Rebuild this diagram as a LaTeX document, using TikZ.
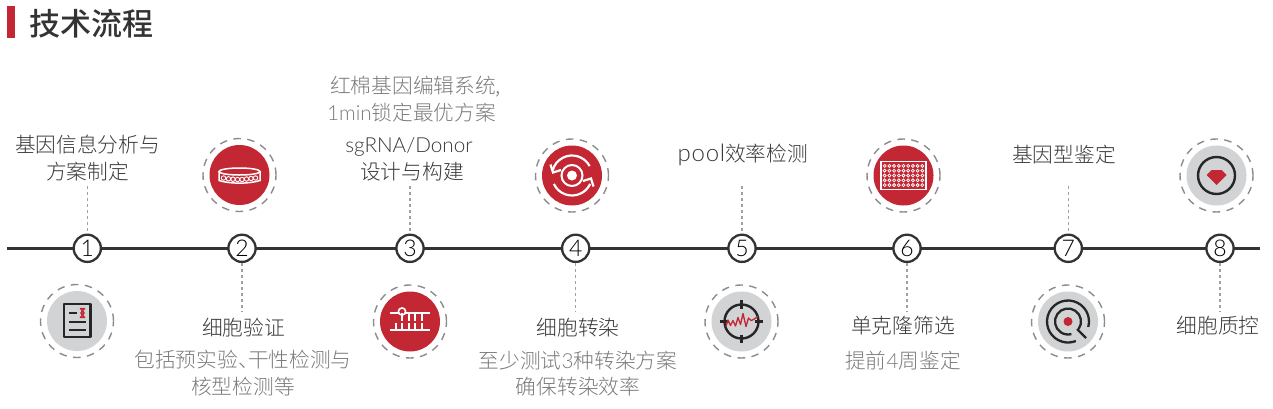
\documentclass[tikz,border=0pt]{standalone}
\usepackage{fontspec}
\newfontfamily\cjk{Noto Sans CJK SC Light}
\newfontfamily\cjkm{Noto Sans CJK SC Medium}
\newfontfamily\lat{Lato Light}
\definecolor{rd}{HTML}{C22733}
\definecolor{gy}{HTML}{D1D3D4}
\definecolor{dk}{HTML}{333333}
\definecolor{txa}{HTML}{383838}
\definecolor{txb}{HTML}{7A7A7A}
\definecolor{dsh}{HTML}{A0A0A0}
\newcommand{\fs}[1]{\fontsize{#1}{#1}\selectfont}
\tikzset{
 x=1pt,y=-1pt,
 num/.style={circle,draw=dk,line width=2.3pt,fill=white,minimum size=27.2pt,inner sep=0pt,font=\lat\fs{23}\color{black}},
 tmain/.style={inner sep=0pt,font=\cjk\fs{20.7},text=txa,align=center},
 tsub/.style={inner sep=0pt,font=\cjk\fs{20.7},text=txb,align=center},
 link/.style={draw=dsh,line width=1.1pt,dash pattern=on 3pt off 3pt},
 halo/.style={draw=gray!90,line width=1.4pt,dash pattern=on 7.5pt off 6.5pt},
 wl/.style={draw=white,line width=1.5pt},
 kl/.style={draw=black!85,line width=2.3pt},
}
\newcommand{\iconbase}[3]{%
 \node[circle,inner sep=0pt,minimum size=60pt,fill=#3] (#1) at (#2) {};
 \draw[halo] (#2) circle[radius=36.5pt];
}
\begin{document}
\begin{tikzpicture}
\useasboundingbox (0,0) rectangle (1273,408);
% title
\fill[rd] (7,6) rectangle (15,38);
\node[inner sep=0pt,anchor=west,font=\cjkm\fs{31},text=dk] (title) at (29,24) {技术流程};
% axis
\coordinate (ax0) at (7,248.3);
\coordinate (ax1) at (1259.5,248.3);
\draw[dk,line width=3pt] (ax0) -- (ax1);
% step circles
\foreach \n/\x in {1/87.3,2/242,3/410,4/575.7,5/742,6/907,7/1068.3,8/1220}
  \node[num] (s\n) at (\x,248.3) {\n};
% texts above
\node[tmain] (t1a) at (87.5,145) {基因信息分析与};
\node[tmain] (t1b) at (87.5,171.5) {方案制定};
\node[tsub,anchor=west] (n3a) at (330,87) {红棉基因编辑系统,};
\node[tsub,anchor=west] (n3b) at (327,113) {{\lat 1min}锁定最优方案};
\node[tmain] (t3a) at (409,147) {\lat sgRNA/Donor};
\node[tmain] (t3b) at (412,171.5) {设计与构建};
\node[tmain] (t5) at (739.5,155) {{\lat\fs{24} p\kern.8pt o\kern.8pt o\kern.6pt l}效率检测};
\node[tmain] (t7) at (1064,155) {基因型鉴定};
% texts below
\node[tmain] (t2) at (243.5,327.5) {细胞验证};
\node[tsub] (n2a) at (243,360) {包括预实验、\hspace{-10.7pt}干性检测与};
\node[tsub] (n2b) at (243,386.5) {核型检测等};
\node[tmain] (t4) at (578,327.5) {细胞转染};
\node[tsub] (n4a) at (578,360.5) {至少测试{\lat 3}种转染方案};
\node[tsub] (n4b) at (578,386.5) {确保转染效率};
\node[tmain] (t6) at (903,326) {单克隆筛选};
\node[tsub] (n6) at (903,360.5) {提前{\lat 4}周鉴定};
\node[tmain] (t8) at (1218,326) {细胞质控};
% connectors
\coordinate (e1) at (87.3,186);\coordinate (e3) at (410,186);\coordinate (e5) at (742,186);\coordinate (e7) at (1068.3,186);
\coordinate (e2) at (242,312);\coordinate (e4) at (575.7,312);\coordinate (e6) at (907,312);\coordinate (e8) at (1220,312);
\draw[link] (e1) -- (s1.north);
\draw[link] (e3) -- (s3.north);
\draw[link] (e5) -- (s5.north);
\draw[link] (e7) -- (s7.north);
\draw[link] (s2.south) -- (e2);
\draw[link] (s4.south) -- (e4);
\draw[link] (s6.south) -- (e6);
\draw[link] (s8.south) -- (e8);
% icon 1
\iconbase{i1}{77,321}{gy}
\begin{scope}[shift={(77,321)}]
 \draw[kl,line join=round] (-13,-17) rectangle (13.5,16);
 \draw[kl] (-8,-8) -- (0,-8) (-8,0.7) -- (9,0.7) (-8,8.7) -- (9,8.7);
 \draw[rd,line width=1.2pt] (3,-12.5) .. controls (8.5,-8) .. (3,-3.5) (8,-12.5) .. controls (2.5,-8) .. (8,-3.5) (3,-12.5) -- (8,-12.5) (3.5,-8) -- (7.5,-8) (3,-3.5) -- (8,-3.5);
\end{scope}
% icon 2
\iconbase{i2}{239.5,175}{rd}
\begin{scope}[shift={(239.5,175)}]
 \draw[wl] (0,-3.5) ellipse[x radius=20.5pt,y radius=3.5pt];
 \draw[wl] (-20.5,-3.5) -- (-20.5,5.5) .. controls (-10,9) and (10,9) .. (20.5,5.5) -- (20.5,-3.5);
 \foreach \a/\b in {-16/3,-11/3.8,-6.5/4.2,-2/4.5,2.5/4.5,7/4,11.5/3.5,16/3}
   \draw[white,line width=.95pt] (\a,\b) circle[radius=2.2pt];
\end{scope}
% icon 3
\iconbase{i3}{410,321.5}{rd}
\begin{scope}[shift={(410,321.5)}]
 \draw[white,line width=2pt] (-20,-8.5) -- (20,-8.5) (-20,8) -- (20,8);
 \draw[white,line width=1.6pt,fill=rd] (-8,-10) circle[radius=3.6pt];
 \foreach \x in {-8,-1,5,12} \draw[white,line width=1.8pt] (\x,-8.5) -- (\x,-1);
 \foreach \x in {-14,-8,-1,5,12} \draw[white,line width=1.8pt] (\x,8) -- (\x,1);
\end{scope}
% icon 4
\iconbase{i4}{572,175.5}{rd}
\begin{scope}[shift={(572,175.5)}]
 \fill[white] (0,0) circle[radius=5pt];
 \draw[white,line width=2pt] (0,0) circle[radius=10.5pt];
 \draw[white,line width=2.2pt] (28:20pt) arc[start angle=28,end angle=165,radius=20pt];
 \draw[white,line width=2.2pt] (205:20pt) arc[start angle=205,end angle=335,radius=20pt];
 \draw[white,line width=2.2pt] (-21.5,-11) -- (-19,-3) -- (-11,-5.5);
 \draw[white,line width=2.2pt] (21.5,11) -- (19,3) -- (11,5.5);
\end{scope}
% icon 5
\iconbase{i5}{741.5,321.5}{gy}
\begin{scope}[shift={(741.5,321.5)}]
 \draw[kl,line width=2.4pt] (0,0) circle[radius=17pt];
 \draw[kl] (0,-21.5) -- (0,-13) (0,13) -- (0,21.5) (-21.5,0) -- (-13,0) (13,0) -- (21.5,0);
 \draw[rd,line width=1.3pt,line join=round] (-15.5,5) -- (-13.5,-1.5) -- (-11,4) -- (-8.5,-1) -- (-6,4.5) -- (-3.5,-4) -- (-1,3) -- (1.5,-8) -- (4.5,5) -- (7,-3.5) -- (9.5,-1) -- (12,-2) -- (16.5,-5);
\end{scope}
% icon 6
\iconbase{i6}{903.5,175.5}{rd}
\begin{scope}[shift={(903.5,175.5)}]
 \draw[white,line width=1.6pt] (-22.5,-14) rectangle (22.5,14);
 \foreach \c in {0,...,8} \foreach \r in {0,...,4}
   \draw[white,line width=.75pt] ({-18.8+4.7*\c},{-9.6+4.8*\r}) circle[radius=1.5pt];
\end{scope}
% icon 7
\iconbase{i7}{1068,321.5}{gy}
\begin{scope}[shift={(1068,321.5)}]
 \draw[kl] (-15:21pt) arc[start angle=-15,end angle=292,radius=21pt];
 \draw[kl] (-35:13pt) arc[start angle=-35,end angle=285,radius=13pt];
 \draw[kl] (9,7.5) -- (18,16.5);
 \fill[rd] (0,0) circle[radius=4.5pt];
\end{scope}
% icon 8
\iconbase{i8}{1216.5,175.5}{gy}
\begin{scope}[shift={(1216.5,175.5)}]
 \draw[kl,line width=2.4pt] (0,0) circle[radius=18.5pt];
 \fill[rd] (-5,-5.5) -- (5,-5.5) -- (10,-.5) -- (0,9.5) -- (-10,-.5) -- cycle;
\end{scope}
\end{tikzpicture}
\end{document}
